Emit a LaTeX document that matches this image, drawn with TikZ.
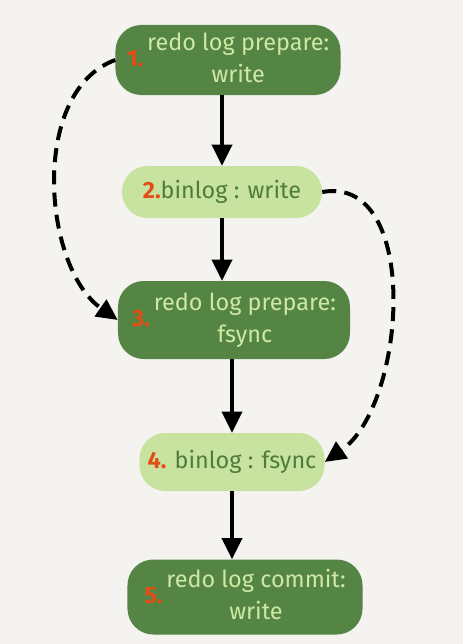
\documentclass[tikz,border=0pt]{standalone}
\usepackage{fontspec}
\setmainfont{Fira Sans}
\usetikzlibrary{arrows.meta,positioning}
\definecolor{boxdark}{RGB}{84,133,68}
\definecolor{boxlight}{RGB}{200,226,160}
\definecolor{txtlight}{RGB}{208,232,165}
\definecolor{txtdark}{RGB}{78,124,60}
\definecolor{numred}{RGB}{226,78,22}
\definecolor{paper}{RGB}{244,243,239}
\newcommand{\stepnum}[1]{\textcolor{numred}{\bfseries #1}}

\begin{document}
\begin{tikzpicture}[x=0.03cm,y=-0.03cm,
    darkstep/.style={fill=boxdark,text=txtlight,rounded corners=22pt,inner sep=2pt,font=\fontsize{20}{27}\selectfont},
    lightstep/.style={fill=boxlight,text=txtdark,rounded corners=22pt,inner sep=2pt,font=\fontsize{20}{27}\selectfont},
    flow/.style={-{Triangle[length=18pt,width=17pt]},line width=3.4pt},
    skip/.style={flow,dash pattern=on 12pt off 7pt}]
    \fill[paper] (0,0) rectangle (463,644);
    \useasboundingbox (0,0) rectangle (463,644);
    % the five steps
    \node[darkstep,minimum width=6.75cm,minimum height=2.1cm] (n1) at (228,60)
        {\stepnum{1.}\,\begin{tabular}{@{}c@{}}redo log prepare:\\write\end{tabular}};
    \node[lightstep,minimum width=6cm,minimum height=1.56cm] (n2) at (222,192)
        {\stepnum{2.}binlog : write};
    \node[darkstep,minimum width=6.96cm,minimum height=2.34cm] (n3) at (234,320)
        {\stepnum{3.}\,\begin{tabular}{@{}c@{}}redo log prepare:\\fsync\end{tabular}};
    \node[lightstep,minimum width=5.55cm,minimum height=1.74cm] (n4) at (232,462)
        {\stepnum{4.} binlog : fsync};
    \node[darkstep,minimum width=7.05cm,minimum height=2.25cm] (n5) at (245,597)
        {\stepnum{5.}\,\begin{tabular}{@{}c@{}}redo log commit:\\write\end{tabular}};
    % main order
    \draw[flow] (n2.north |- n1.south) -- (n2.north);
    \draw[flow] (n2.south) -- (n2.south |- n3.north);
    \draw[flow] (n4.north |- n3.south) -- (n4.north);
    \draw[flow] (n4.south) -- (n4.south |- n5.north);
    % dashed
    \draw[skip] (n1.west) to[out=200,in=145,looseness=0.9] (n3.west);
    \draw[skip] (n2.east) to[out=10,in=35,looseness=0.95] (n4.east);
\end{tikzpicture}
\end{document}
